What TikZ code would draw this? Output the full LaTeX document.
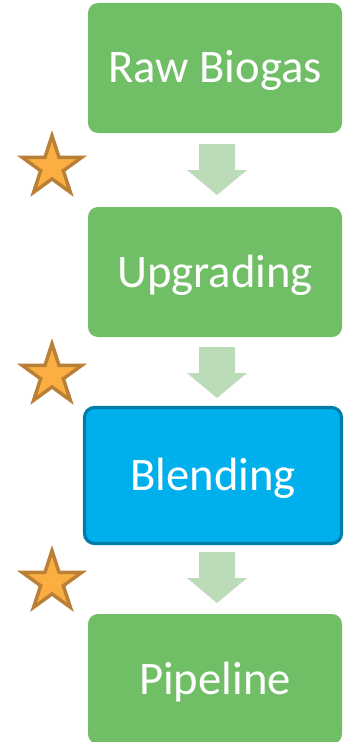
\documentclass[tikz,border=0pt]{standalone}
\usepackage{fontspec}
\setmainfont{Carlito}
\usetikzlibrary{shapes.geometric}

\definecolor{boxgreen}{RGB}{112,190,102}
\definecolor{arrowgreen}{RGB}{188,219,185}
\definecolor{blendblue}{RGB}{0,176,236}
\definecolor{blendedge}{RGB}{0,125,168}
\definecolor{starfill}{RGB}{251,174,66}
\definecolor{staredge}{RGB}{186,128,54}

\tikzset{
  stagebox/.style={rectangle, rounded corners=7.5pt, fill=boxgreen, text=white,
    minimum width=190.5pt, minimum height=97.5pt, inner sep=0pt,
    font=\fontsize{35}{40}\selectfont, text height=22.5pt, text depth=0pt},
  activebox/.style={stagebox, fill=blendblue, draw=blendedge, line width=2.4pt,
    minimum width=192.75pt, minimum height=102pt},
  starmark/.style={star, star points=5, star point ratio=2.618, fill=starfill,
    draw=staredge, line width=2.6pt, minimum size=47pt, inner sep=0pt},
  flowfill/.style={fill=arrowgreen}
}

% block arrow pointing down, #1 = middle of its top edge
\newcommand{\flowarrow}[1]{%
  \fill[flowfill] #1 ++(-18,0) -- ++(36,0) -- ++(0,26) -- ++(12,0)
    -- ++(-30,25) -- ++(-30,-25) -- ++(12,0) -- cycle;}

\begin{document}
\begin{tikzpicture}[x=0.75pt,y=0.75pt,yscale=-1,xscale=1]
\useasboundingbox (0,0) rectangle (343,742);

% Stage boxes
\node [stagebox] (raw) at (215,68) {Raw Biogas};
\node [stagebox] (upgrading) at (215,272) {Upgrading};
\node [activebox] (blending) at (213,475.5) {Blending};
\node [stagebox] (pipeline) at (215,679) {Pipeline};

% Arrows between stages
\coordinate (a1) at (217,144);
\coordinate (a2) at (217,347);
\coordinate (a3) at (217,552);
\flowarrow{(a1)}
\flowarrow{(a2)}
\flowarrow{(a3)}

% Stars
\node [starmark] (star1) at (52,167) {};
\node [starmark] (star2) at (52,375) {};
\node [starmark] (star3) at (52,582) {};

\end{tikzpicture}
\end{document}
